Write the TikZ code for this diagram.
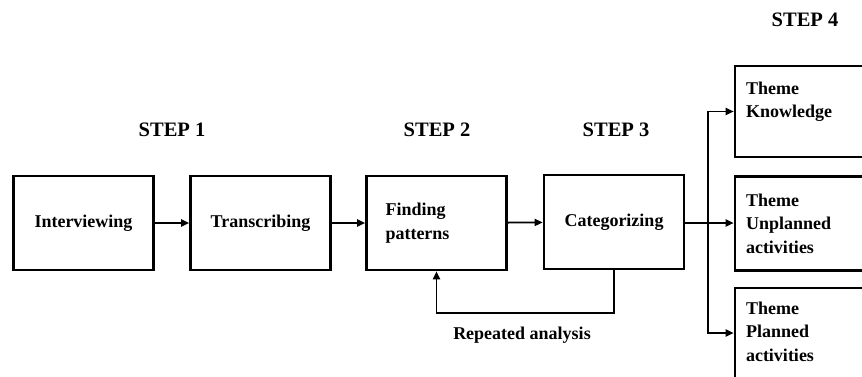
\documentclass[tikz,border=0pt]{standalone}
\usepackage{fontspec}
\setmainfont{Liberation Serif}
\usetikzlibrary{arrows.meta}
\begin{document}
\begin{tikzpicture}[x=1pt,y=-1pt,
  box/.style={draw,line width=2.6pt,minimum width=140pt,minimum height=94pt,
    font=\bfseries\fontsize{18}{23.5}\selectfont,align=center},
  theme/.style={box,minimum width=150pt,minimum height=91pt,text width=128pt,
    align=left,inner xsep=9pt},
  lbl/.style={font=\bfseries\fontsize{20.5}{24}\selectfont},
  arr/.style={line width=1.8pt,-{Triangle[length=8pt,width=7pt]}}]
\clip (0,0) rectangle (862,376);
\node[lbl] (s1) at (172,130) {STEP 1};
\node[lbl] (s2) at (437,130) {STEP 2};
\node[lbl] (s3) at (616,130) {STEP 3};
\node[lbl] (s4) at (805,20) {STEP 4};
\node[box] (intv) at (83.5,223) {Interviewing};
\node[box] (trans) at (260.5,223) {Transcribing};
\node[box,text width=102pt,align=left,inner xsep=18pt] (patt) at (436.5,223) {Finding\\patterns};
\node[box] (categ) at (614,222) {Categorizing};
\node[theme] (know) at (810,111.5) {Theme\\Knowledge\\~};
\node[theme,minimum height=94pt] (unpl) at (810,223.5) {Theme\\Unplanned\\activities};
\node[theme,minimum height=100pt] (plan) at (810,338) {Theme\\Planned\\activities\\[-10pt]~};
\node[font=\bfseries\fontsize{18}{22}\selectfont] (rep) at (522,335) {Repeated analysis};
\coordinate (fork) at (708,223);
\draw[arr] (intv) -- (trans);
\draw[arr] (trans) -- (patt);
\draw[arr] (patt) -- (categ);
\draw[line width=1.8pt] (categ.east |- fork) -- (fork);
\draw[arr] (fork) |- (know.west);
\draw[arr] (fork) -- (unpl.west |- fork);
\draw[arr] (fork) |- ([yshift=5pt]plan.west);
\draw[arr] (categ.south) -- ++(0,43) -| (patt.south);
\end{tikzpicture}
\end{document}
